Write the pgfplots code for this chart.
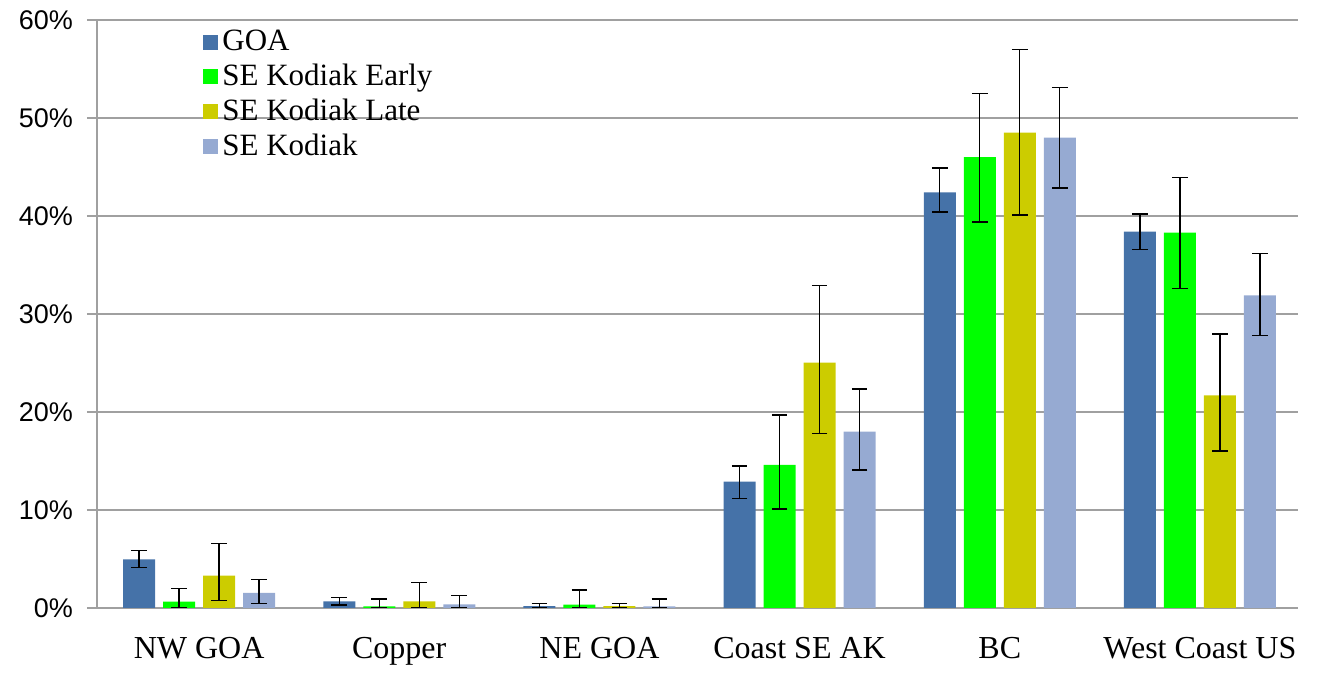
\documentclass[border=0pt]{standalone}
\usepackage{fontspec}
\setmainfont{Liberation Serif}
\setsansfont{Liberation Sans}
\usepackage{pgfplots}
\usepackage{pgfplotstable}
\pgfplotsset{compat=1.18}
\definecolor{cgoa}{RGB}{69,114,168}
\definecolor{cearly}{RGB}{0,255,0}
\definecolor{clate}{RGB}{204,204,0}
\definecolor{cse}{RGB}{150,170,210}
\definecolor{cgrid}{RGB}{160,160,160}

\pgfplotstableread{
x y ep em
0 4.95 0.91 0.81
1 0.67 0.41 0.37
2 0.20 0.27 0.20
3 12.9 1.6 1.7
4 42.4 2.5 2.0
5 38.4 1.8 1.8
}\goa
\pgfplotstableread{
x y ep em
0 0.64 1.35 0.64
1 0.17 0.74 0.17
2 0.34 1.48 0.34
3 14.6 5.1 4.5
4 46.0 6.5 6.6
5 38.3 5.6 5.7
}\early
\pgfplotstableread{
x y ep em
0 3.3 3.3 2.56
1 0.67 1.93 0.67
2 0.20 0.27 0.20
3 25.05 7.85 7.25
4 48.5 8.5 8.4
5 21.7 6.25 5.7
}\late
\pgfplotstableread{
x y ep em
0 1.55 1.35 1.11
1 0.37 0.88 0.37
2 0.17 0.74 0.17
3 18.0 4.35 3.9
4 48.0 5.1 5.15
5 31.9 4.3 4.1
}\sek

\begin{document}
\begin{tikzpicture}
\begin{axis}[
  scale only axis,
  width=600.5pt, height=294pt,
  ybar=4pt, bar width=16pt,
  xmin=-0.51, xmax=5.49,
  ymin=0, ymax=60,
  axis x line*=bottom, axis y line*=left,
  axis line style={cgrid, line width=0.8pt, -},
  xtick={0,...,5},
  xticklabels={NW GOA, Copper, NE GOA, Coast SE AK, BC, West Coast US},
  xtick style={draw=none},
  xticklabel style={font=\fontsize{16}{18}\selectfont, yshift=-6pt},
  ytick={0,10,...,60},
  yticklabels={0\%,10\%,20\%,30\%,40\%,50\%,60\%},
  yticklabel style={font=\sffamily\fontsize{13.5}{15}\selectfont, xshift=-3.5pt},
  ytick style={cgrid, line width=0.8pt},
  tick align=outside, major tick length=5pt,
  ymajorgrids,
  grid style={cgrid, line width=0.8pt},
  legend style={draw=none, fill=none, at={(rel axis cs:0,1)}, xshift=50pt, yshift=-1pt, anchor=north west,
    font=\fontsize{15.5}{17}\selectfont, row sep=1.2pt,
    nodes={inner sep=2pt}},
  legend cell align=left,
  legend image code/.code={\fill[#1] (-2.5pt,-3.75pt) rectangle (5pt,3.75pt);},
  error bars/y dir=both, error bars/y explicit,
  error bars/error bar style={black, line width=0.7pt},
  error bars/error mark options={black, line width=0.7pt, mark size=3.9pt, rotate=90},
]
\addplot[fill=cgoa, draw=none] table[x=x, y=y, y error plus=ep, y error minus=em] {\goa};
\addplot[fill=cearly, draw=none] table[x=x, y=y, y error plus=ep, y error minus=em] {\early};
\addplot[fill=clate, draw=none] table[x=x, y=y, y error plus=ep, y error minus=em] {\late};
\addplot[fill=cse, draw=none] table[x=x, y=y, y error plus=ep, y error minus=em] {\sek};
\legend{GOA, SE Kodiak Early, SE Kodiak Late, SE Kodiak}
\end{axis}
\path ([xshift=-48.5pt,yshift=-35pt]current axis.south west) rectangle ([xshift=13.5pt,yshift=10pt]current axis.north east);
\end{tikzpicture}
\end{document}
